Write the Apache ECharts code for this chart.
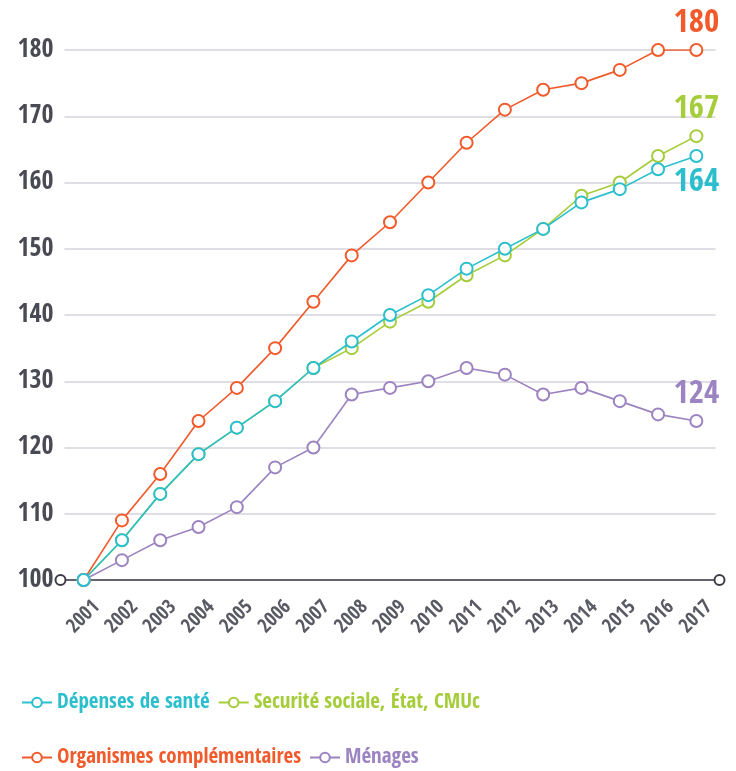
<!DOCTYPE html>
<html><head><meta charset="utf-8">
<script src="https://cdn.jsdelivr.net/npm/echarts@6/dist/echarts.min.js"></script>
<style>html,body{margin:0;padding:0;background:#fff}#c{width:736px;height:771px}</style>
</head><body><div id="c"></div>
<script>
const years = ['2001','2002','2003','2004','2005','2006','2007','2008','2009','2010','2011','2012','2013','2014','2015','2016','2017'];
const depenses = [100,106,113,119,123,127,132,136,140,143,147,150,153,157,159,162,164];
const secu = [100,106,113,119,123,127,132,135,139,142,146,149,153,158,160,164,167];
const organismes = [100,109,116,124,129,135,142,149,154,160,166,171,174,175,177,180,180];
const menages = [100,103,106,108,111,117,120,128,129,130,132,131,128,129,127,125,124];
const yTicks = [100,110,120,130,140,150,160,170,180];

const FONT = '"Open Sans Condensed","Roboto Condensed","Liberation Sans Narrow",sans-serif';
const C = {dep:'#2bbfce', secu:'#a5cc39', org:'#f15a2b', men:'#9c83c1'};

function mk(name, vals, color, z, labelPos){
  return {
    name, type:'line', data: vals.map((v,i)=> i===vals.length-1 ? {value:v, label:{show:true, position:labelPos, distance:3, formatter:'{c}', color:color, fontFamily:FONT, fontWeight:'bold', fontSize:33}} : v),
    symbol:'emptyCircle', symbolSize:12, z,
    lineStyle:{color, width:1.6},
    itemStyle:{color, borderColor:color, borderWidth:1.8},
    emphasis:{disabled:true}, animation:false
  };
}

const legendText = {fontFamily:FONT, fontWeight:'bold', fontSize:21};
const chart = echarts.init(document.getElementById('c'));
chart.setOption({
  animation:false,
  grid:{left:64.5, right:20.5, top:50, bottom:191, containLabel:false},
  xAxis:{type:'category', data:years, boundaryGap:true,
    axisLine:{show:true, lineStyle:{color:'#3c3c46', width:1.5}, symbol:['emptyCircle','emptyCircle'], symbolSize:[10,10], symbolOffset:[-4,4]},
    axisTick:{show:false},
    axisLabel:{rotate:45, align:'center', verticalAlign:'middle', margin:37, color:'#5a5a64', fontFamily:FONT, fontWeight:'bold', fontSize:20, interval:0}
  },
  yAxis:{type:'value', min:yTicks[0], max:yTicks[yTicks.length-1], interval:10,
    axisLine:{show:false}, axisTick:{show:false},
    splitLine:{lineStyle:{color:'#d3d3db', width:1.5}},
    axisLabel:{margin:11, color:'#4a4a55', fontFamily:FONT, fontWeight:'bold', fontSize:26}
  },
  legend:[
    {data:[{name:'Dépenses de santé', textStyle:{color:C.dep}},{name:'Securité sociale, État, CMUc', textStyle:{color:C.secu}}],
     left:16, top:687, itemWidth:30, itemHeight:12, itemGap:8, textStyle:legendText, selectedMode:false},
    {data:[{name:'Organismes complémentaires', textStyle:{color:C.org}},{name:'Ménages', textStyle:{color:C.men}}],
     left:16, top:742, itemWidth:30, itemHeight:12, itemGap:8, textStyle:legendText, selectedMode:false}
  ],
  series:[
    mk('Securité sociale, État, CMUc', secu, C.secu, 2, 'top'),
    mk('Organismes complémentaires', organismes, C.org, 3, 'top'),
    mk('Ménages', menages, C.men, 4, 'top'),
    mk('Dépenses de santé', depenses, C.dep, 5, 'bottom')
  ]
});
</script></body></html>
